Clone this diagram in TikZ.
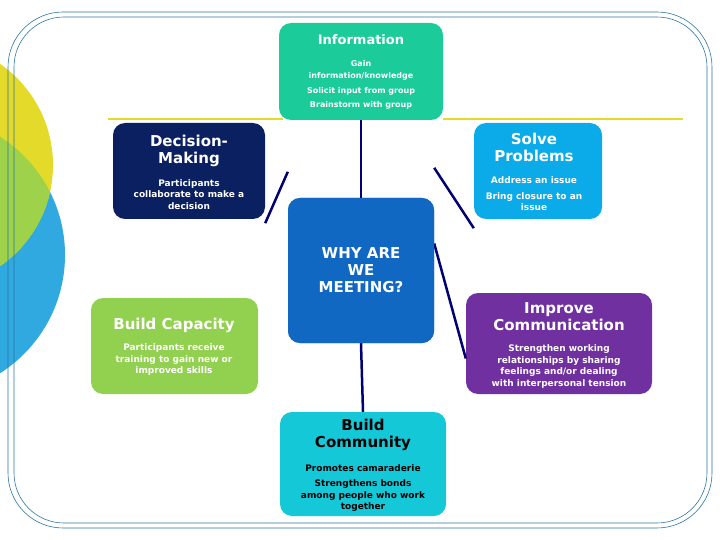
\documentclass[tikz,border=0pt]{standalone}
\usepackage{fontspec}
\setmainfont{DejaVu Sans}
\begin{document}
\begin{tikzpicture}[x=1pt,y=-1pt,
 box/.style={rounded corners=12pt,inner sep=0pt},
 ttl/.style={font=\bfseries\fontsize{15}{17}\selectfont,align=center},
 bdy/.style={font=\bfseries\fontsize{9}{11.5}\selectfont,align=center},
 link/.style={draw=blue!45!black,line width=2.5pt}]
\useasboundingbox (0,0) rectangle (720,540);
\definecolor{cinfo}{HTML}{1CCB9A}\definecolor{cdec}{HTML}{0B2060}
\definecolor{csol}{HTML}{0BAAE8}\definecolor{cwhy}{HTML}{1068C2}
\definecolor{ccap}{HTML}{92D050}\definecolor{cimp}{HTML}{7030A0}
\definecolor{ccom}{HTML}{14C8D8}\definecolor{cfr}{HTML}{2E75A0}
\definecolor{cyel}{HTML}{E3DA2A}\definecolor{cblu}{HTML}{30A8E0}
% left decoration
\begin{scope}
\clip (0,0) rectangle (720,540);
\fill[cblu] (-75,255) circle (140);
\fill[cyel] (-70,165) circle (123);
\begin{scope}\clip (-75,255) circle (140);
\fill[ccap!85!cyel] (-70,165) circle (123);\end{scope}
\end{scope}
\draw[cfr,line width=0.6pt,rounded corners=55pt] (8,12) rectangle (712,528);
\draw[cfr,line width=0.6pt,rounded corners=50pt] (14,17) rectangle (707,523);
\draw[cyel,line width=1.5pt] (108,119) -- (283,119) (443,119) -- (683,119);
% boxes
\node[box,fill=cinfo,minimum width=164pt,minimum height=97pt] (info) at (361,71.5) {};
\node[box,fill=cdec,minimum width=152pt,minimum height=96pt] (dec) at (189,171) {};
\node[box,fill=csol,minimum width=128pt,minimum height=96pt] (sol) at (538,171) {};
\node[box,fill=ccap,minimum width=167pt,minimum height=96pt] (cap) at (174.5,346) {};
\node[box,fill=cimp,minimum width=186pt,minimum height=101pt] (imp) at (559,343.5) {};
\node[box,fill=ccom,minimum width=166pt,minimum height=104pt] (com) at (363,464) {};
\node[box,fill=cwhy,minimum width=146pt,minimum height=145pt] (why) at (361,270.5) {};
% links
\draw[link] (why.north) -- (info.south);
\draw[link] (why.south) -- (com.north);
\draw[link] ([yshift=26]why.north west) -- ([yshift=-4]dec.south east);
\draw[link] ([yshift=30]why.north east) -- ([yshift=-9]sol.south west);
\draw[link] ([yshift=27]why.east) -- ([yshift=-15]imp.west);
\node[box,fill=cwhy,minimum width=146pt,minimum height=145pt] (why2) at (361,270.5) {};
% texts
\node[ttl,text=white,font=\fontsize{13}{15}\selectfont\bfseries] (tinfo) at (361,40) {Information};
\node[bdy,text=white,font=\bfseries\fontsize{8}{12.5}\selectfont] (binfo) at (361,85) {Gain\\information/knowledge\\[2pt]Solicit input from group\\[2pt]Brainstorm with group};
\node[ttl,text=white] (tdec) at (189,151) {Decision-\\Making};
\node[bdy,text=white] (bdec) at (189,194.5) {Participants\\collaborate to make a\\decision};
\node[ttl,text=white] (tsol) at (534,147) {Solve\\Problems};
\node[bdy,text=white] (bsol) at (534,194) {Address an issue\\[4pt]Bring closure to an\\issue};
\node[ttl,text=white] (twhy) at (361,270.5) {WHY ARE\\WE\\MEETING?};
\node[ttl,text=white] (tcap) at (174,325) {Build Capacity};
\node[bdy,text=white] (bcap) at (174,360) {Participants receive\\training to gain new or\\improved skills};
\node[ttl,text=white] (timp) at (559,316.5) {Improve\\Communication};
\node[bdy,text=white] (bimp) at (559,366.5) {Strengthen working\\relationships by sharing\\feelings and/or dealing\\with interpersonal tension};
\node[ttl,text=black] (tcom) at (363,434.5) {Build\\Community};
\node[bdy,text=black] (bcom) at (363,488) {Promotes camaraderie\\[4pt]Strengthens bonds\\among people who work\\together};
\end{tikzpicture}
\end{document}
